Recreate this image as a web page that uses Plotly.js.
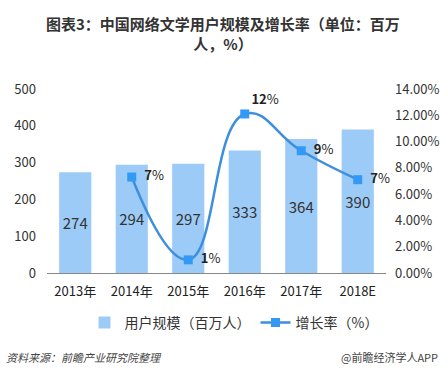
<!DOCTYPE html>
<html><head><meta charset="utf-8">
<script src="https://cdn.plot.ly/plotly-3.0.1.min.js"></script>
<style>html,body{margin:0;padding:0;background:#fff;}#chart{width:447px;height:376px;}</style>
</head><body><div id="chart"></div>
<script>
var years = ['2013年','2014年','2015年','2016年','2017年','2018E'];
var users = [274, 294, 297, 333, 364, 390];
var growthYears = ['2014年','2015年','2016年','2017年','2018E'];
var growth = [0.073, 0.010, 0.121, 0.093, 0.071];
var growthText = ['<b>7</b>%','<b>1</b>%','<b>12</b>%','<b>9</b>%','<b>7</b>%'];
var growthPos = ['middle right','middle right','top right','middle right','middle right'];

var F = '"Noto Sans CJK SC", "Noto Sans", sans-serif';
var W = 447, H = 376, L = 47, R = 61, T = 89, B = 103;
function px(x){ return (x - L) / (W - L - R); }
function py(y){ return (H - B - y) / (H - T - B); }

var bars = {
  type:'bar', x: years, y: users, name:'用户规模（百万人）',
  marker:{color:'#9DCBF7'},
  text: users.map(String), textposition:'inside', insidetextanchor:'middle',
  textangle:0, constraintext:'none',
  textfont:{family:F, size:15, color:'#333'}, hoverinfo:'none'
};
var line = {
  type:'scatter', mode:'lines+markers+text', x: growthYears, y: growth, yaxis:'y2',
  name:'增长率（%）', line:{color:'#3D8FDB', width:2.5, shape:'spline', smoothing:1.3},
  marker:{symbol:'square', size:9, color:'#3399F5'},
  text: growthText.map(function(t, i){ return growthPos[i] === 'middle right' ? '\u00a0\u00a0' + t : t; }),
  textposition: growthPos,
  textfont:{family:F, size:13, color:'#222'}, cliponaxis:false, hoverinfo:'none'
};
var layout = {
  width:W, height:H, margin:{l:L, r:R, t:T, b:B},
  paper_bgcolor:'#fff', plot_bgcolor:'#fff',
  font:{family:F, color:'#333'},
  bargap:0.43, showlegend:true,
  xaxis:{type:'category', showline:true, linecolor:'#888', linewidth:1, ticks:'', showgrid:false,
    tickfont:{family:F, size:13, color:'#222'}, ticklabelstandoff:6},
  yaxis:{range:[0,500], dtick:100, showgrid:false, zeroline:false, showline:false,
    tickfont:{family:F, size:13, color:'#333'}, ticklabelstandoff:10},
  yaxis2:{overlaying:'y', side:'right', range:[0,0.14], dtick:0.02, tickformat:'.2%',
    showgrid:false, zeroline:false, showline:false,
    tickfont:{family:F, size:13, color:'#333'}, ticklabelstandoff:8},
  legend:{orientation:'h', xref:'container', yref:'container', x:234/W, xanchor:'center',
    y:1-323/H, yanchor:'middle', font:{family:F, size:14, color:'#333'}},
  annotations:[
    {text:'<b>图表3：中国网络文学用户规模及增长率（单位：百万</b><br><b>人，%）</b>',
     xref:'paper', yref:'paper', x:px(223), xanchor:'center', y:py(33), yanchor:'middle',
     showarrow:false, align:'center', font:{family:F, size:15, color:'#333'}},
    {text:'<i>资料来源：前瞻产业研究院整理</i>', xref:'paper', yref:'paper',
     x:px(4), xanchor:'left', y:py(357), yanchor:'middle', showarrow:false,
     font:{family:F, size:11, color:'#444'}},
    {text:'@前瞻经济学人APP', xref:'paper', yref:'paper',
     x:px(440), xanchor:'right', y:py(357), yanchor:'middle', showarrow:false,
     font:{family:F, size:11, color:'#444'}}
  ]
};
Plotly.newPlot('chart', [bars, line], layout, {displayModeBar:false, staticPlot:true});
</script></body></html>
